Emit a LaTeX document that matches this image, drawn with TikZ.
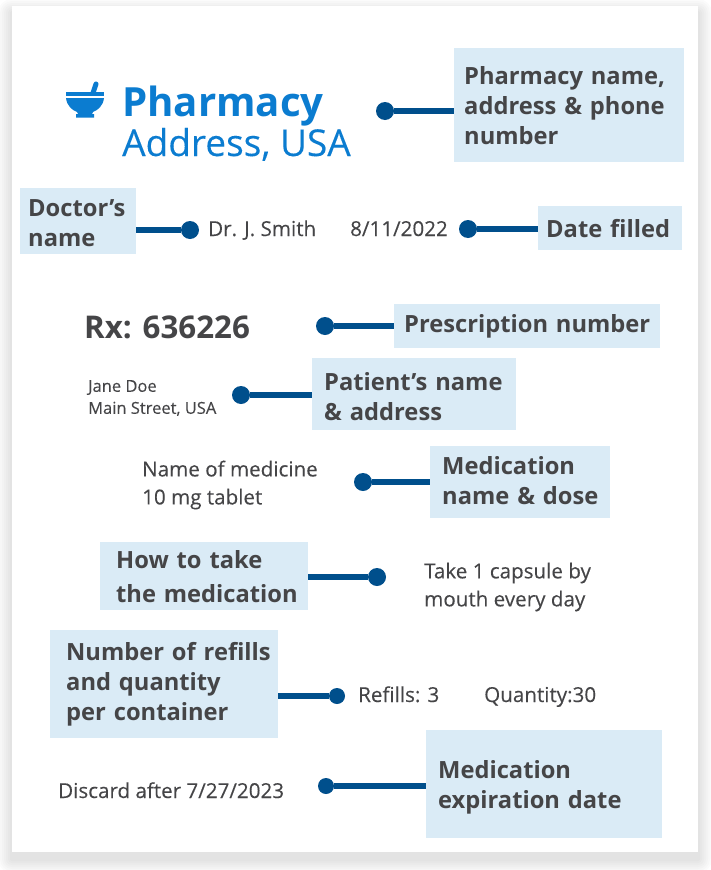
\documentclass[tikz,border=0pt]{standalone}
\usepackage{fontspec}
\setmainfont{Open Sans}
\newfontfamily\mediumfont[FakeBold=0.15]{Open Sans}
\definecolor{boxblue}{HTML}{DAEBF6}
\definecolor{linkblue}{HTML}{004F8C}
\definecolor{brandblue}{HTML}{0B7CD0}
\definecolor{inkgray}{HTML}{454547}
\tikzset{
  labelbox/.style={fill=boxblue,text=inkgray,font=\fontsize{23.7}{30}\selectfont\bfseries,
    align=left,inner sep=0pt,anchor=north west},
  pad/.style={execute at begin node={\leftskip=#1pt\relax}},
  infotext/.style={text=inkgray,font=\mediumfont\fontsize{20.6}{28}\selectfont,align=left,inner sep=0pt,anchor=west},
  oneline/.style={infotext,anchor=base west},
  dot/.style={circle,fill=linkblue,minimum size=18pt,inner sep=0pt},
  link/.style={draw=linkblue,line width=6pt}
}
\begin{document}
\begin{tikzpicture}[x=1pt,y=-1pt]
  \useasboundingbox (0,0) rectangle (710,870);
  % card and its soft shadow
  \foreach \s in {14,12,...,2}
    \fill[black,opacity=0.014,rounded corners=\s pt] (12-\s,6-\s+7) rectangle (698+\s,852+\s+7);
  \fill[white] (12,6) rectangle (698,852);

  % mortar and pestle
  \draw[brandblue,line width=5pt,line cap=round] (93,93) -- (96,84);
  \fill[brandblue] (66,92) rectangle (104,96);
  \fill[brandblue] (66,98) -- (104,98) .. controls (103,106) and (98,110) .. (93,112)
    -- (92,114) -- (94,114) -- (94,117.5) -- (76,117.5) -- (76,114) -- (78,114) -- (77,112)
    .. controls (72,110) and (67,106) .. (66,98) -- cycle;

  % pharmacy header
  \node[text=brandblue,font=\fontsize{40.2}{44}\selectfont\bfseries,inner sep=0pt,anchor=base west] (pharmacy) at (122,116) {Pharmacy};
  \node[text=brandblue,font=\mediumfont\fontsize{37}{40}\selectfont,inner sep=0pt,anchor=base west] (address) at (122,156) {Address, USA};

  % label boxes
  \node[labelbox,pad=10,text width=230pt,minimum height=114pt] (pharmacybox) at (454,48) {Pharmacy name,\\address \& phone\\number};
  \node[labelbox,pad=8,text width=116pt,minimum height=66pt] (doctorbox) at (20,188) {\rule{0pt}{20pt}Doctor’s\\name};
  \node[labelbox,pad=8,text width=144pt,minimum height=44pt] (datebox) at (538,206) {Date filled};
  \node[labelbox,pad=10,text width=266pt,minimum height=44pt] (rxbox) at (394,304) {Prescription number};
  \node[labelbox,pad=12,text width=204pt,minimum height=72pt] (patientbox) at (312,358) {\rule{0pt}{22pt}Patient’s name\\\& address};
  \node[labelbox,pad=12,text width=180pt,minimum height=72pt] (medbox) at (430,446) {Medication\\name \& dose\rule[-4pt]{0pt}{0pt}};
  \node[labelbox,pad=16,text width=208pt,minimum height=68pt,font=\fontsize{23.7}{34}\selectfont\bfseries] (howbox) at (100,542) {How to take\\the medication};
  \node[labelbox,pad=16,text width=228pt,minimum height=108pt] (refillbox) at (50,630) {Number of refills\\and quantity\\per container};
  \node[labelbox,pad=12,text width=236pt,minimum height=108pt] (expirybox) at (426,730) {\rule{0pt}{24pt}Medication\\expiration date};

  % printed label text
  \node[oneline] (doctor) at (208,236) {Dr. J. Smith};
  \node[oneline] (filled) at (350,236) {8/11/2022};
  \node[text=inkgray,font=\fontsize{31.3}{34}\selectfont\bfseries,inner sep=0pt,anchor=base west] (rx) at (84,338) {Rx: 636226};
  \node[infotext,font=\mediumfont\fontsize{16.5}{22}\selectfont] (patient) at (88,398) {Jane Doe\\Main Street, USA};
  \node[infotext] (medicine) at (142,485) {Name of medicine\\10 mg tablet};
  \node[infotext] (take) at (424,587) {Take 1 capsule by\\mouth every day};
  \node[oneline] (refills) at (358,702) {Refills: 3};
  \node[oneline] (quantity) at (484,702) {Quantity:30};
  \node[oneline] (discard) at (58,798) {Discard after 7/27/2023};

  % dots
  \node[dot] (d1) at (385,111) {};
  \node[dot] (d2) at (190,230) {};
  \node[dot] (d3) at (468,229) {};
  \node[dot] (d4) at (325,326) {};
  \node[dot] (d5) at (241,395) {};
  \node[dot] (d6) at (363,482) {};
  \node[dot] (d7) at (377,577) {};
  \node[dot,minimum size=16pt] (d8) at (337,696) {};
  \node[dot,minimum size=16pt] (d9) at (326,786) {};

  % connectors
  \draw[link] (d1) -- (d1 -| pharmacybox.west);
  \draw[link] (d2) -- (d2 -| doctorbox.east);
  \draw[link] (d3) -- (d3 -| datebox.west);
  \draw[link] (d4) -- (d4 -| rxbox.west);
  \draw[link] (d5) -- (d5 -| patientbox.west);
  \draw[link] (d6) -- (d6 -| medbox.west);
  \draw[link] (d7) -- (d7 -| howbox.east);
  \draw[link] (d8) -- (d8 -| refillbox.east);
  \draw[link] (d9) -- (d9 -| expirybox.west);
\end{tikzpicture}
\end{document}
